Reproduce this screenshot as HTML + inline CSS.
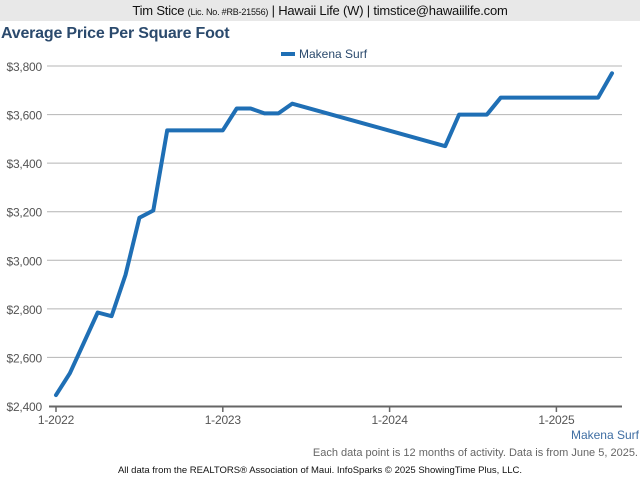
<!DOCTYPE html>
<html><head><meta charset="utf-8"><style>
body{margin:0;width:640px;height:480px;background:#fff;font-family:"Liberation Sans",Arial,sans-serif;overflow:hidden;position:relative}
.hdr{position:absolute;left:0;top:0;width:640px;height:21px;background:#e8e8e8;text-align:center;font-size:13px;line-height:22px;color:#111;letter-spacing:-0.2px}
.hdr small{font-size:9px}
.title{position:absolute;left:1px;top:25px;font-size:16px;font-weight:bold;color:#2b4a6d;letter-spacing:-0.2px}
</style></head><body>
<div class="hdr">Tim Stice <small>(Lic. No. #RB-21556)</small> | Hawaii Life (W) | timstice@hawaiilife.com</div>
<div class="title">Average Price Per Square Foot</div>
<svg id="chart" width="640" height="480" style="position:absolute;left:0;top:0"></svg>
<script>
const months=[0,1,2,3,4,5,6,7,8,9,10,11,12,13,14,15,16,17,28,29,30,31,32,33,34,35,36,37,38,39,40];
const values=[2445,2535,2660,2785,2770,2940,3175,3205,3535,3535,3535,3535,3535,3625,3625,3605,3605,3645,3470,3600,3600,3600,3670,3670,3670,3670,3670,3670,3670,3670,3770];
const yTicks=[2400,2600,2800,3000,3200,3400,3600,3800];
const xTickMonths=[0,12,24,36];
const xTickLabels=['1-2022','1-2023','1-2024','1-2025'];
const svg=document.getElementById('chart');const NS='http://www.w3.org/2000/svg';
const x=m=>56+m*13.9;const y=v=>406-(v-2400)*340/1400;
function mk(t,a,txt){const e=document.createElementNS(NS,t);for(const k in a)e.setAttribute(k,a[k]);if(txt!==undefined)e.textContent=txt;svg.appendChild(e);return e;}
yTicks.forEach(v=>{
 if(v>2400){const g=mk('line',{x1:47,x2:622,y1:y(v),y2:y(v),stroke:'#b4b4b4','stroke-width':1});
 
 }
 const t=mk('text',{x:42,y:y(v)+5,'text-anchor':'end','font-size':12,fill:'#555','font-family':'Liberation Sans, sans-serif','letter-spacing':'-0.2'},'$'+v.toLocaleString('en-US'));
 
 
});
const ax=mk('line',{x1:49,x2:622,y1:406.5,y2:406.5,stroke:'#666','stroke-width':2});


xTickMonths.forEach((m,i)=>{
 const tk=mk('line',{x1:x(m),x2:x(m),y1:406,y2:412,stroke:'#666','stroke-width':1.5});
 
 
 const t=mk('text',{x:x(m),y:424,'text-anchor':'middle','font-size':12,fill:'#555','font-family':'Liberation Sans, sans-serif','letter-spacing':'-0.2'},xTickLabels[i]);
 
 
});
const pts=months.map((m,i)=>x(m)+','+y(values[i])).join(' ');
const ln=mk('polyline',{points:pts,fill:'none',stroke:'#1f6fb5','stroke-width':4,'stroke-linejoin':'round','stroke-linecap':'round'});


const lg=mk('line',{x1:281,x2:295,y1:54,y2:54,stroke:'#1f6fb5','stroke-width':4});


const lt=mk('text',{x:299,y:58,'font-size':12,fill:'#2b4a6d','font-family':'Liberation Sans, sans-serif'},'Makena Surf');


const s1=mk('text',{x:639,y:439,'text-anchor':'end','font-size':12,fill:'#3f6ea3','font-family':'Liberation Sans, sans-serif'},'Makena Surf');


const s2=mk('text',{x:638,y:456,'text-anchor':'end','font-size':11,fill:'#666','font-family':'Liberation Sans, sans-serif'},'Each data point is 12 months of activity. Data is from June 5, 2025.');


const s3=mk('text',{x:320,y:473,'text-anchor':'middle','font-size':9.5,fill:'#111','font-family':'Liberation Sans, sans-serif'},'All data from the REALTORS® Association of Maui. InfoSparks © 2025 ShowingTime Plus, LLC.');


</script>
</body></html>
